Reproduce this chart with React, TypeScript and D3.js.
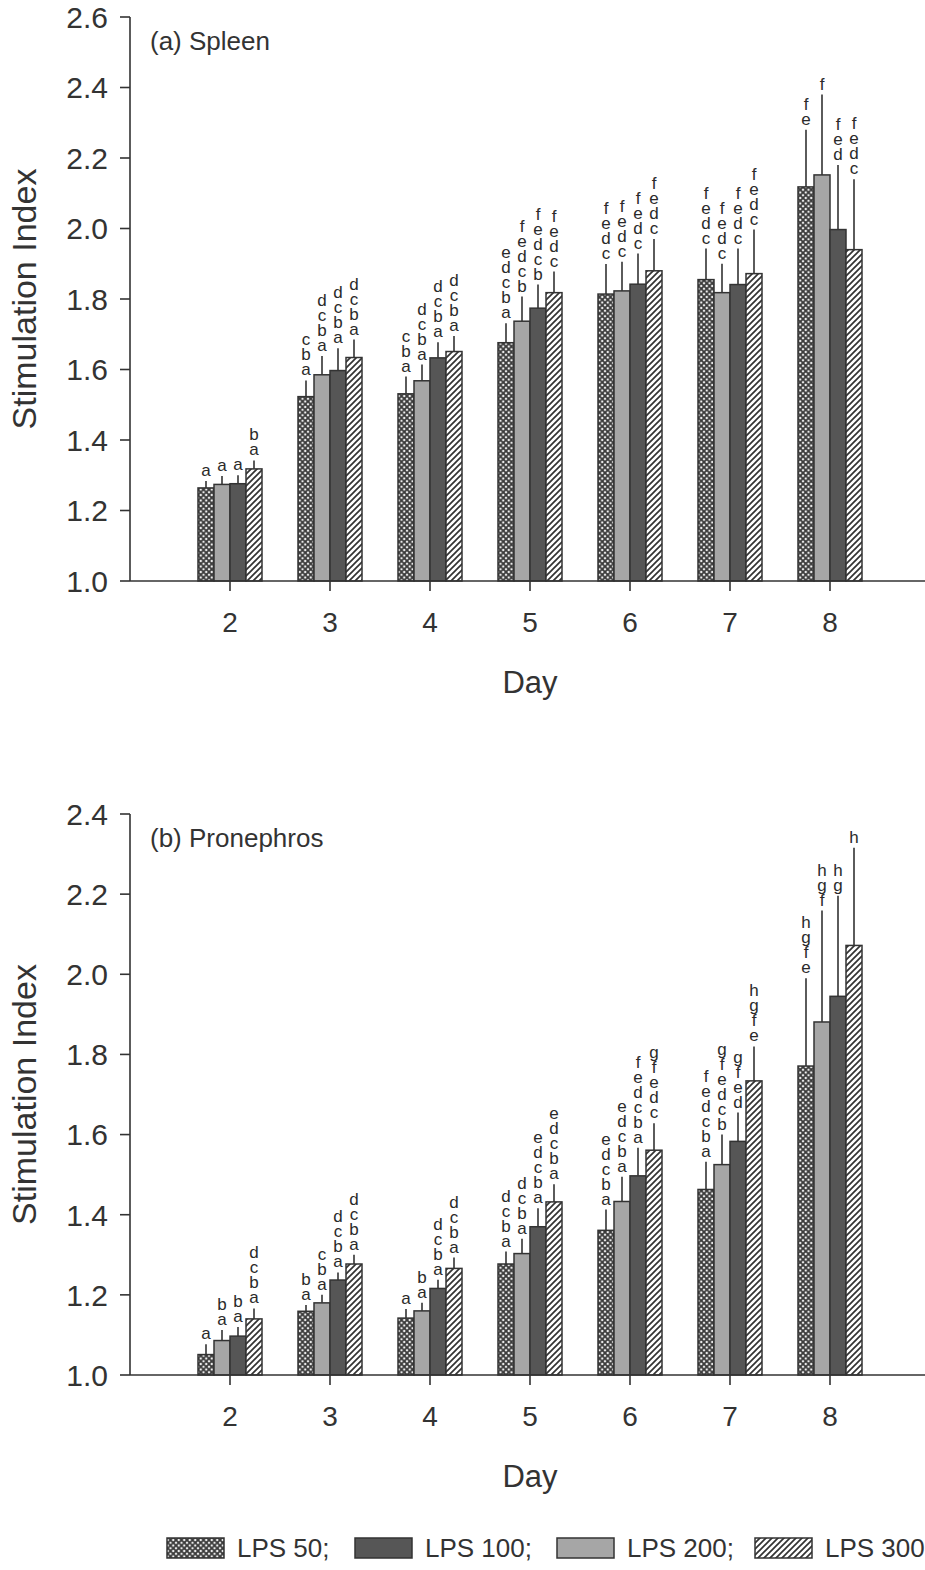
import React from "react";
import * as d3 from "d3";

// Days on the x axis
const days = [2, 3, 4, 5, 6, 7, 8];

// Series keys in the order the bars sit inside each day group
const barOrder = ["LPS 50", "LPS 200", "LPS 100", "LPS 300"];
// Series keys in legend order
const legendOrder = ["LPS 50", "LPS 100", "LPS 200", "LPS 300"];

// (a) Spleen: means
const spleen50 = [1.264, 1.523, 1.531, 1.676, 1.814, 1.855, 2.118];
const spleen100 = [1.276, 1.597, 1.633, 1.774, 1.842, 1.841, 1.997];
const spleen200 = [1.274, 1.585, 1.568, 1.737, 1.823, 1.818, 2.152];
const spleen300 = [1.318, 1.634, 1.651, 1.818, 1.88, 1.872, 1.94];
// (a) Spleen: error bar lengths
const spleen50Err = [0.02, 0.046, 0.049, 0.055, 0.085, 0.088, 0.162];
const spleen100Err = [0.024, 0.063, 0.044, 0.067, 0.087, 0.102, 0.183];
const spleen200Err = [0.024, 0.053, 0.046, 0.07, 0.083, 0.082, 0.228];
const spleen300Err = [0.024, 0.051, 0.044, 0.06, 0.09, 0.125, 0.2];
// (a) Spleen: significance letters (top to bottom)
const spleen50Sig = ["a", "cba", "cba", "edcba", "fedc", "fedc", "fe"];
const spleen100Sig = ["a", "dcba", "dcba", "fedcb", "fedc", "fedc", "fed"];
const spleen200Sig = ["a", "dcba", "dcba", "fedcb", "fedc", "fedc", "f"];
const spleen300Sig = ["ba", "dcba", "dcba", "fedc", "fedc", "fedc", "fedc"];

// (b) Pronephros: means
const proneph50 = [1.051, 1.159, 1.142, 1.277, 1.361, 1.463, 1.771];
const proneph100 = [1.097, 1.237, 1.216, 1.37, 1.497, 1.583, 1.945];
const proneph200 = [1.086, 1.18, 1.16, 1.303, 1.433, 1.525, 1.881];
const proneph300 = [1.14, 1.277, 1.266, 1.432, 1.561, 1.734, 2.072];
// (b) Pronephros: error bar lengths
const proneph50Err = [0.026, 0.016, 0.023, 0.031, 0.052, 0.069, 0.219];
const proneph100Err = [0.023, 0.019, 0.022, 0.046, 0.07, 0.072, 0.251];
const proneph200Err = [0.026, 0.02, 0.02, 0.037, 0.062, 0.075, 0.278];
const proneph300Err = [0.026, 0.023, 0.027, 0.044, 0.067, 0.086, 0.244];
// (b) Pronephros: significance letters (top to bottom)
const proneph50Sig = ["a", "ba", "a", "dcba", "edcba", "fedcba", "hgfe"];
const proneph100Sig = ["ba", "dcba", "dcba", "edcba", "fedcba", "gfed", "hg"];
const proneph200Sig = ["ba", "cba", "ba", "dcba", "edcba", "gfedcb", "hgf"];
const proneph300Sig = ["dcba", "dcba", "dcba", "edcba", "gfedc", "hgfe", "h"];

const spleenTicks = [1.0, 1.2, 1.4, 1.6, 1.8, 2.0, 2.2, 2.4, 2.6];
const pronephTicks = [1.0, 1.2, 1.4, 1.6, 1.8, 2.0, 2.2, 2.4];

const FONT = "'Liberation Sans', Arial, Helvetica, sans-serif";
const INK = "#333";

const fills: Record<string, string> = {
  "LPS 50": "url(#crossPat)",
  "LPS 100": "#565656",
  "LPS 200": "#a6a6a6",
  "LPS 300": "url(#hatchPat)",
};

type SeriesSet = Record<string, { mean: number[]; err: number[]; sig: string[] }>;

const spleenSet: SeriesSet = {
  "LPS 50": { mean: spleen50, err: spleen50Err, sig: spleen50Sig },
  "LPS 100": { mean: spleen100, err: spleen100Err, sig: spleen100Sig },
  "LPS 200": { mean: spleen200, err: spleen200Err, sig: spleen200Sig },
  "LPS 300": { mean: spleen300, err: spleen300Err, sig: spleen300Sig },
};
const pronephSet: SeriesSet = {
  "LPS 50": { mean: proneph50, err: proneph50Err, sig: proneph50Sig },
  "LPS 100": { mean: proneph100, err: proneph100Err, sig: proneph100Sig },
  "LPS 200": { mean: proneph200, err: proneph200Err, sig: proneph200Sig },
  "LPS 300": { mean: proneph300, err: proneph300Err, sig: proneph300Sig },
};

const W = 925;
const H = 1570;
const axisX = 130;
const barW = 16;
const lineGap = 15;

const x = d3.scaleLinear().domain([1, 9]).range([axisX, axisX + 800]);
const offset = d3
  .scaleBand<string>()
  .domain(barOrder)
  .range([-2 * barW, 2 * barW]);

function Panel(props: {
  title: string;
  set: SeriesSet;
  ticks: number[];
  yBottom: number;
  yTop: number;
}) {
  const { title, set, ticks, yBottom, yTop } = props;
  const yMax = ticks[ticks.length - 1];
  const y = d3.scaleLinear().domain([1, yMax]).range([yBottom, yTop]);
  const mid = (yBottom + yTop) / 2;
  return (
    <g>
      {/* y axis */}
      <line x1={axisX} x2={axisX} y1={y(1)} y2={y(yMax)} stroke={INK} strokeWidth={1.6} />
      {ticks.map((t) => (
        <g key={t}>
          <line x1={axisX - 10} x2={axisX} y1={y(t)} y2={y(t)} stroke={INK} strokeWidth={1.6} />
          <text
            x={axisX - 22}
            y={y(t)}
            dy="0.36em"
            textAnchor="end"
            fontSize={30}
            fontFamily={FONT}
            fill={INK}
          >
            {d3.format(".1f")(t)}
          </text>
        </g>
      ))}
      <text
        transform={`translate(36,${mid}) rotate(-90)`}
        textAnchor="middle"
        fontSize={34}
        fontFamily={FONT}
        fill={INK}
      >
        Stimulation Index
      </text>
      <text x={150} y={yTop + 33} fontSize={26} fontFamily={FONT} fill={INK}>
        {title}
      </text>

      {/* bars, error bars and letter stacks */}
      {barOrder.map((key) =>
        days.map((d, i) => {
          const s = set[key];
          const x0 = x(d) + (offset(key) as number);
          const cx = x0 + barW / 2;
          const top = y(s.mean[i]);
          const errTop = y(s.mean[i] + s.err[i]);
          const letters = s.sig[i].split("");
          const firstY = errTop - 5 - (letters.length - 1) * lineGap;
          return (
            <g key={key + d}>
              <line x1={cx} x2={cx} y1={top} y2={errTop} stroke={INK} strokeWidth={1.6} />
              <rect
                x={x0}
                y={top}
                width={barW}
                height={y(1) - top}
                fill={fills[key]}
                stroke={INK}
                strokeWidth={1.5}
              />
              <text
                x={cx}
                y={firstY}
                textAnchor="middle"
                fontSize={17}
                fontFamily={FONT}
                fill="#2a2a2a"
              >
                {letters.map((ch, j) => (
                  <tspan key={j} x={cx} dy={j === 0 ? 0 : lineGap}>
                    {ch}
                  </tspan>
                ))}
              </text>
            </g>
          );
        })
      )}

      {/* x axis */}
      <line x1={axisX} x2={W} y1={y(1)} y2={y(1)} stroke={INK} strokeWidth={1.6} />
      {days.map((d) => (
        <g key={d}>
          <line x1={x(d)} x2={x(d)} y1={y(1)} y2={y(1) + 10} stroke={INK} strokeWidth={1.6} />
          <text
            x={x(d)}
            y={y(1) + 51}
            textAnchor="middle"
            fontSize={28}
            fontFamily={FONT}
            fill={INK}
          >
            {d}
          </text>
        </g>
      ))}
      <text
        x={x(5)}
        y={y(1) + 112}
        textAnchor="middle"
        fontSize={31}
        fontFamily={FONT}
        fill={INK}
      >
        Day
      </text>
    </g>
  );
}

const legendX = [167, 355, 557, 755];

export default function App() {
  return (
    <svg
      width={W}
      height={H}
      style={{ position: "absolute", left: 0, top: 0, background: "#fff" }}
    >
      <defs>
        <pattern id="crossPat" patternUnits="userSpaceOnUse" width={5.5} height={5.5}>
          <rect width={5.5} height={5.5} fill="#fff" />
          <path d="M0,0L5.5,5.5M5.5,0L0,5.5" stroke="#3a3a3a" strokeWidth={1.8} />
        </pattern>
        <pattern id="hatchPat" patternUnits="userSpaceOnUse" width={6} height={6}>
          <rect width={6} height={6} fill="#fff" />
          <path d="M0,6L6,0M-1.5,1.5L1.5,-1.5M4.5,7.5L7.5,4.5" stroke="#333" strokeWidth={1.7} />
        </pattern>
      </defs>
      <rect width={W} height={H} fill="#fff" />
      <Panel title="(a) Spleen" set={spleenSet} ticks={spleenTicks} yBottom={581} yTop={17} />
      <Panel title="(b) Pronephros" set={pronephSet} ticks={pronephTicks} yBottom={1375} yTop={814} />

      {/* legend */}
      {legendOrder.map((key, i) => (
        <g key={key}>
          <rect
            x={legendX[i]}
            y={1538}
            width={57}
            height={20}
            fill={fills[key]}
            stroke={INK}
            strokeWidth={1.5}
          />
          <text
            x={legendX[i] + 70}
            y={1557}
            fontSize={26}
            fontFamily={FONT}
            fill={INK}
          >
            {key + (i < legendOrder.length - 1 ? ";" : "")}
          </text>
        </g>
      ))}
    </svg>
  );
}
